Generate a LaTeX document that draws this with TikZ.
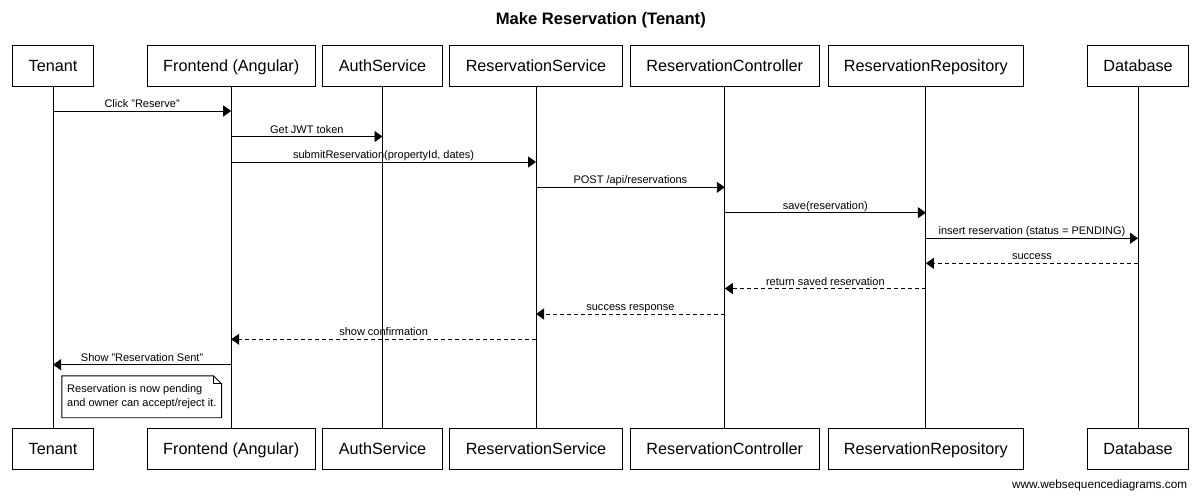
\documentclass[tikz,border=0pt]{standalone}
\usepackage{fontspec}
\setmainfont{Liberation Sans}
\usetikzlibrary{arrows.meta,positioning}

\begin{document}
\begin{tikzpicture}[x=1bp, y=-1bp, line width=0.9bp,
    party/.style={draw, fill=white, minimum height=41.4bp, inner xsep=16bp, text height=11.6bp, text depth=0bp, font=\fontsize{16.2bp}{19bp}\selectfont},
    msg/.style={-{Triangle[length=8bp, width=11bp]}},
    reply/.style={msg, dash pattern=on 4bp off 3bp},
    lbl/.style={midway, above, inner sep=0.5bp, text height=8bp, text depth=2.5bp, font=\fontsize{11bp}{13bp}\selectfont},
    note/.style={align=left, minimum width=158.8bp, minimum height=41bp, font=\fontsize{11bp}{13.3bp}\selectfont}]
  \useasboundingbox (0,0) rectangle (1200,497);
  \node[font=\bfseries\fontsize{16.6bp}{19bp}\selectfont] (title) at (600.8,20) {Make Reservation (Tenant)};

  % participants, top row
  \node[party] (tenT) at (53,66) {Tenant};
  \node[party] (feT) at (231.2,66) {Frontend (Angular)};
  \node[party] (authT) at (382.5,66) {AuthService};
  \node[party] (rsvT) at (536,66) {ReservationService};
  \node[party] (ctrlT) at (724.8,66) {ReservationController};
  \node[party] (repoT) at (925.9,66) {ReservationRepository};
  \node[party] (dbT) at (1138,66) {Database};

  % participants, bottom row
  \node[party] (tenB) at (53,448.7) {Tenant};
  \node[party] (feB) at (231.2,448.7) {Frontend (Angular)};
  \node[party] (authB) at (382.5,448.7) {AuthService};
  \node[party] (rsvB) at (536,448.7) {ReservationService};
  \node[party] (ctrlB) at (724.8,448.7) {ReservationController};
  \node[party] (repoB) at (925.9,448.7) {ReservationRepository};
  \node[party] (dbB) at (1138,448.7) {Database};

  % lifelines
  \draw (tenT) -- (tenB);
  \draw (feT) -- (feB);
  \draw (authT) -- (authB);
  \draw (rsvT) -- (rsvB);
  \draw (ctrlT) -- (ctrlB);
  \draw (repoT) -- (repoB);
  \draw (dbT) -- (dbB);

  % messages
  \draw[msg] (tenT |- 0,111) -- node[lbl] {Click "Reserve"} (feT |- 0,111);
  \draw[msg] (feT |- 0,136.5) -- node[lbl] {Get JWT token} (authT |- 0,136.5);
  \draw[msg] (feT |- 0,162) -- node[lbl] {submitReservation(propertyId, dates)} (rsvT |- 0,162);
  \draw[msg] (rsvT |- 0,187.3) -- node[lbl] {POST /api/reservations} (ctrlT |- 0,187.3);
  \draw[msg] (ctrlT |- 0,212.7) -- node[lbl] {save(reservation)} (repoT |- 0,212.7);
  \draw[msg] (repoT |- 0,238.3) -- node[lbl] {insert reservation (status = PENDING)} (dbT |- 0,238.3);
  \draw[reply] (dbT |- 0,263.3) -- node[lbl] {success} (repoT |- 0,263.3);
  \draw[reply] (repoT |- 0,288.5) -- node[lbl] {return saved reservation} (ctrlT |- 0,288.5);
  \draw[reply] (ctrlT |- 0,314) -- node[lbl] {success response} (rsvT |- 0,314);
  \draw[reply] (rsvT |- 0,339.3) -- node[lbl] {show confirmation} (feT |- 0,339.3);
  \draw[msg] (feT |- 0,364.7) -- node[lbl] {Show "Reservation Sent"} (tenT |- 0,364.7);

  % note with folded corner
  \node[note] (pend) at (141.8,396.8) {Reservation is now pending\\and owner can accept/reject it.};
  \draw (pend.north west) -- ([xshift=-8bp]pend.north east) -- ([yshift=-8bp]pend.north east)
    -- (pend.south east) -- (pend.south west) -- cycle;
  \draw ([xshift=-8bp]pend.north east) |- ([yshift=-8bp]pend.north east);

  \node[anchor=east, font=\fontsize{11.8bp}{14bp}\selectfont] (wsd) at (1191,485) {www.websequencediagrams.com};
\end{tikzpicture}
\end{document}
